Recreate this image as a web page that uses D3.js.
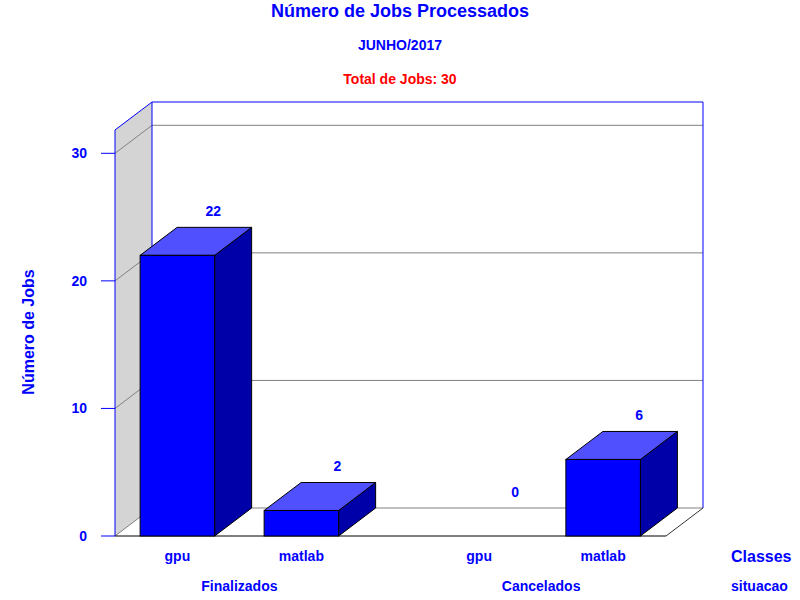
<!DOCTYPE html>
<html><head><meta charset="utf-8">
<script src="https://cdn.jsdelivr.net/npm/d3@7"></script>
<style>body{margin:0;background:#fff}svg{display:block}text{font-family:"Liberation Sans",Arial,sans-serif;font-weight:bold}</style>
</head><body>
<svg id="c" width="800" height="600"></svg>
<script>
const groups = ["Finalizados", "Cancelados"];
const classes = ["gpu", "matlab"];
const finalizados = [22, 2];
const cancelados = [0, 6];
const yTicks = [0, 10, 20, 30];
const title = "Número de Jobs Processados";
const subtitle = "JUNHO/2017";
const totalLabel = "Total de Jobs: 30";
const yTitle = "Número de Jobs";
const xTitle1 = "Classes";
const xTitle2 = "situacao";

const seriesByGroup = { "Finalizados": finalizados, "Cancelados": cancelados };

const svg = d3.select("#c");
const DX = 37, DY = -28;
const left = 115, right = 666, base = 536, wallTopFront = 130;

const y = d3.scaleLinear().domain([0, 30]).range([536, 153.3]);
const xg = d3.scaleBand().domain(groups).range([88.5, 692]).padding(0);
const xc = d3.scalePoint().domain(classes).range([-62, 62]);
const barW = 74.5;

const BLUE = "#0000ff";

// left wall
svg.append("polygon")
  .attr("points", [[left, base], [left, wallTopFront], [left + DX, wallTopFront + DY], [left + DX, base + DY]].join(" "))
  .attr("fill", "#d4d4d4").attr("stroke", "none");
// back wall
svg.append("rect").attr("x", left + DX).attr("y", wallTopFront + DY)
  .attr("width", right - left).attr("height", base - wallTopFront)
  .attr("fill", "#fff");

// gridlines
const grid = svg.append("g").attr("stroke", "#808080").attr("stroke-width", 1).attr("fill", "none");
yTicks.forEach(t => {
  const yy = y(t);
  grid.append("line").attr("x1", left).attr("y1", yy).attr("x2", left + DX).attr("y2", yy + DY);
  grid.append("line").attr("x1", left + DX).attr("y1", yy + DY).attr("x2", right + DX).attr("y2", yy + DY);
});

// wall borders (blue)
const wb = svg.append("g").attr("stroke", BLUE).attr("stroke-width", 1).attr("fill", "none");
wb.append("line").attr("x1", left).attr("y1", base).attr("x2", left).attr("y2", wallTopFront);
wb.append("line").attr("x1", left).attr("y1", wallTopFront).attr("x2", left + DX).attr("y2", wallTopFront + DY);
wb.append("line").attr("x1", left + DX).attr("y1", wallTopFront + DY).attr("x2", left + DX).attr("y2", base + DY);
wb.append("line").attr("x1", left + DX).attr("y1", wallTopFront + DY).attr("x2", right + DX).attr("y2", wallTopFront + DY);
wb.append("line").attr("x1", right + DX).attr("y1", wallTopFront + DY).attr("x2", right + DX).attr("y2", base + DY);

// floor edges
svg.append("line").attr("x1", left).attr("y1", base).attr("x2", right).attr("y2", base).attr("stroke", "#000");
svg.append("line").attr("x1", right).attr("y1", base).attr("x2", right + DX).attr("y2", base + DY).attr("stroke", "#333");

// y axis ticks
const ya = svg.append("g");
yTicks.forEach(t => {
  ya.append("line").attr("x1", 101).attr("x2", left).attr("y1", y(t)).attr("y2", y(t)).attr("stroke", BLUE);
  ya.append("text").attr("x", 87).attr("y", y(t) + 5).attr("text-anchor", "end")
    .attr("font-size", 14).attr("fill", BLUE).text(t);
});

// bars
const bars = [];
groups.forEach(g => classes.forEach((c, i) => bars.push({ g, c, v: seriesByGroup[g][i] })));
const bg = svg.append("g").attr("stroke", "#000").attr("stroke-width", 1).attr("stroke-linejoin", "miter");
bars.forEach(b => {
  const cx = xg(b.g) + xg.bandwidth() / 2 + xc(b.c);
  const x0 = cx - barW / 2, x1 = cx + barW / 2;
  const yt = y(b.v), yb = y(0);
  if (b.v > 0) {
    bg.append("polygon").attr("points", [[x1, yt], [x1 + DX, yt + DY], [x1 + DX, yb + DY], [x1, yb]].join(" ")).attr("fill", "#0000a8");
    bg.append("polygon").attr("points", [[x0, yt], [x0 + DX, yt + DY], [x1 + DX, yt + DY], [x1, yt]].join(" ")).attr("fill", "#5050ff");
    bg.append("rect").attr("x", x0).attr("y", yt).attr("width", barW).attr("height", yb - yt).attr("fill", BLUE);
  }
  svg.append("text").attr("x", cx + DX - 1).attr("y", yt + DY - 11).attr("text-anchor", "middle")
    .attr("font-size", 14).attr("fill", BLUE).text(b.v);
  svg.append("text").attr("x", cx).attr("y", 561).attr("text-anchor", "middle")
    .attr("font-size", 14).attr("fill", BLUE).text(b.c);
});

// group labels
groups.forEach(g => {
  svg.append("text").attr("x", xg(g) + xg.bandwidth() / 2).attr("y", 591).attr("text-anchor", "middle")
    .attr("font-size", 14).attr("fill", BLUE).text(g);
});

svg.append("text").attr("x", 731).attr("y", 562).attr("font-size", 16).attr("fill", BLUE).text(xTitle1);
svg.append("text").attr("x", 731).attr("y", 591).attr("font-size", 14).attr("fill", BLUE).text(xTitle2);

// titles
svg.append("text").attr("x", 400).attr("y", 17).attr("text-anchor", "middle").attr("font-size", 18).attr("fill", BLUE).text(title);
svg.append("text").attr("x", 400).attr("y", 50).attr("text-anchor", "middle").attr("font-size", 14).attr("fill", BLUE).text(subtitle);
svg.append("text").attr("x", 400).attr("y", 84).attr("text-anchor", "middle").attr("font-size", 14).attr("fill", "#ff0000").text(totalLabel);

svg.append("text").attr("transform", "translate(34,332) rotate(-90)").attr("text-anchor", "middle")
  .attr("font-size", 16).attr("fill", BLUE).text(yTitle);
</script>
</body></html>
